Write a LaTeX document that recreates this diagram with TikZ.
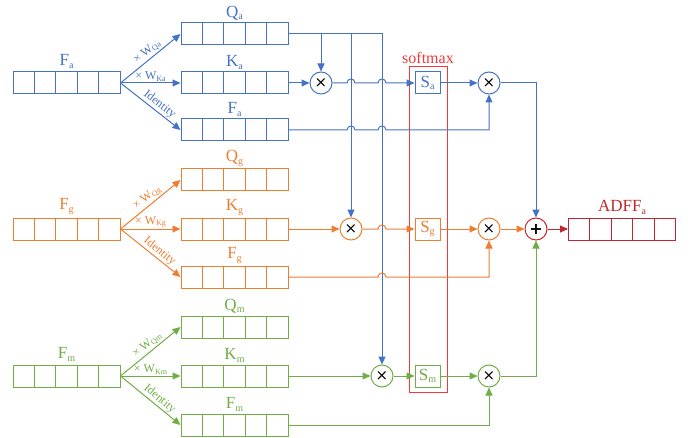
\documentclass[tikz,border=0pt]{standalone}
\usepackage{fontspec}
\setmainfont{Liberation Serif}
\newfontfamily\djv{DejaVu Sans}
\usetikzlibrary{arrows.meta,calc}
\definecolor{cb}{HTML}{4472C4}
\definecolor{co}{HTML}{ED7D31}
\definecolor{cg}{HTML}{70AD47}
\definecolor{cs}{HTML}{EE3B3B}
\definecolor{cr}{HTML}{C0282F}
\newcommand\sbs[1]{\raisebox{-0.3ex}{\fontsize{10}{10}\selectfont #1}}
\newcommand\wsub[1]{\raisebox{-0.3ex}{\fontsize{8}{8}\selectfont #1}}
\newcommand\jump[2]{-- ({#1-4},#2) .. controls ({#1-4},{#2-5.3}) and ({#1+4},{#2-5.3}) .. ({#1+4},#2)}
\begin{document}
\begin{tikzpicture}[x=1pt,y=-1pt,
 vecbox/.style={draw=#1, line width=1pt, minimum width=107pt, minimum height=22pt, inner sep=0pt, fill=white,
   path picture={\foreach \i in {1,2,3,4}{\draw[#1,line width=1pt] ($(path picture bounding box.south west)!\i/5!(path picture bounding box.south east)$) -- ++(0,25pt);}}},
 lbl/.style={font=\fontsize{17}{17}\selectfont, text=#1, inner sep=1pt},
 mul/.style={circle, draw=#1, line width=1pt, minimum size=22pt, inner sep=0pt, fill=white, font=\djv\fontsize{15}{15}\selectfont},
 sbox/.style={draw=#1, line width=1pt, minimum width=25pt, minimum height=22pt, inner sep=0pt, fill=white, text=#1, font=\fontsize{17}{17}\selectfont},
 conn/.style={draw=#1, line width=1pt, -{Triangle[length=8pt,width=7pt]}},
 wl/.style={font=\fontsize{12}{12}\selectfont, text=#1, inner sep=1pt},
]
\useasboundingbox (0,0) rectangle (692,438);

% softmax frame
\node[draw=cs, line width=1pt, minimum width=38pt, minimum height=325pt, inner sep=0pt,
      label={[lbl=cs, font=\fontsize{16}{16}\selectfont, label distance=2pt]above:softmax}] (soft) at (428,229.5) {};

% blue group
\node[vecbox=cb, label={[lbl=cb, label distance=2pt]above:F\sbs{a}}] (Fa)  at (66.5,83) {};
\node[vecbox=cb, label={[lbl=cb, label distance=1pt]above:Q\sbs{a}}] (Qa)  at (234.5,34) {};
\node[vecbox=cb, label={[lbl=cb, label distance=1pt]above:K\sbs{a}}] (Ka)  at (234.5,83) {};
\node[vecbox=cb, label={[lbl=cb, label distance=1pt]above:F\sbs{a}}] (Fa2) at (234.5,130) {};
% orange group
\node[vecbox=co, label={[lbl=co, label distance=2pt]above:F\sbs{g}}] (Fg)  at (66.5,229) {};
\node[vecbox=co, label={[lbl=co, label distance=1pt]above:Q\sbs{g}}] (Qg)  at (234.5,180) {};
\node[vecbox=co, label={[lbl=co, label distance=1pt]above:K\sbs{g}}] (Kg)  at (234.5,229) {};
\node[vecbox=co, label={[lbl=co, label distance=1pt]above:F\sbs{g}}] (Fg2) at (234.5,277) {};
% green group
\node[vecbox=cg, label={[lbl=cg, label distance=2pt]above:F\sbs{m}}] (Fm)  at (66.5,376) {};
\node[vecbox=cg, label={[lbl=cg, label distance=1pt]above:Q\sbs{m}}] (Qm)  at (234.5,327) {};
\node[vecbox=cg, label={[lbl=cg, label distance=1pt]above:K\sbs{m}}] (Km)  at (234.5,376) {};
\node[vecbox=cg, label={[lbl=cg, label distance=1pt]above:F\sbs{m}}] (Fm2) at (234.5,425) {};

% output
\node[vecbox=cr, label={[lbl=cr, label distance=2pt]above:ADFF\sbs{a}}] (AD) at (622,229) {};

% operators
\node[mul=cb] (ma1) at (321,83) {×};
\node[mul=cb] (ma2) at (489,83) {×};
\node[mul=co] (mg1) at (351,229) {×};
\node[mul=co] (mg2) at (489,229) {×};
\node[mul=cg] (mm1) at (382,376) {×};
\node[mul=cg] (mm2) at (489,376) {×};
\node[mul=cr, font=\djv\fontsize{16}{16}\selectfont\bfseries] (pl) at (536,229) {+};

\node[sbox=cb] (Sa) at (427.5,83) {S\sbs{a}};
\node[sbox=co] (Sg) at (427.5,229) {S\sbs{g}};
\node[sbox=cg] (Sm) at (427.5,376) {S\sbs{m}};

% projections
\draw[conn=cb] (Fa.east) -- node[wl=cb, sloped, above, pos=0.52]{× W\wsub{Qa}} (Qa.west);
\draw[conn=cb] (Fa.east) -- node[wl=cb, above, pos=0.5]{× W\wsub{Ka}} (Ka.west);
\draw[conn=cb] (Fa.east) -- node[wl=cb, sloped, above, pos=0.58]{Identity} (Fa2.west);
\draw[conn=co] (Fg.east) -- node[wl=co, sloped, above, pos=0.52]{× W\wsub{Qg}} (Qg.west);
\draw[conn=co] (Fg.east) -- node[wl=co, above, pos=0.5]{× W\wsub{Kg}} (Kg.west);
\draw[conn=co] (Fg.east) -- node[wl=co, sloped, above, pos=0.58]{Identity} (Fg2.west);
\draw[conn=cg] (Fm.east) -- node[wl=cg, sloped, above, pos=0.52]{× W\wsub{Qm}} (Qm.west);
\draw[conn=cg] (Fm.east) -- node[wl=cg, above, pos=0.5]{× W\wsub{Km}} (Km.west);
\draw[conn=cg] (Fm.east) -- node[wl=cg, sloped, above, pos=0.58]{Identity} (Fm2.west);

% Q_a broadcast
\draw[conn=cb] (Qa.east) -| (mm1.north);
\draw[conn=cb] (Qa.east -| ma1) -- (ma1.north);
\draw[conn=cb] (Qa.east -| mg1) -- (mg1.north);

% blue row
\draw[conn=cb] (Ka.east) -- (ma1.west);
\draw[conn=cb] (ma1.east) \jump{351}{83} \jump{382}{83} -- (Sa.west);
\draw[conn=cb] (Sa.east) -- (ma2.west);
\draw[conn=cb] (Fa2.east) \jump{351}{130} \jump{382}{130} -| (ma2.south);
\draw[conn=cb] (ma2.east) -| (pl.north);

% orange row
\draw[conn=co] (Kg.east) -- (mg1.west);
\draw[conn=co] (mg1.east) \jump{382}{229} -- (Sg.west);
\draw[conn=co] (Sg.east) -- (mg2.west);
\draw[conn=co] (Fg2.east) \jump{382}{277} -| (mg2.south);
\draw[conn=co] (mg2.east) -- (pl.west);

% green row
\draw[conn=cg] (Km.east) -- (mm1.west);
\draw[conn=cg] (mm1.east) -- (Sm.west);
\draw[conn=cg] (Sm.east) -- (mm2.west);
\draw[conn=cg] (Fm2.east) -| (mm2.south);
\draw[conn=cg] (mm2.east) -| (pl.south);

% output
\draw[conn=cr] (pl.east) -- (AD.west);
\end{tikzpicture}
\end{document}
